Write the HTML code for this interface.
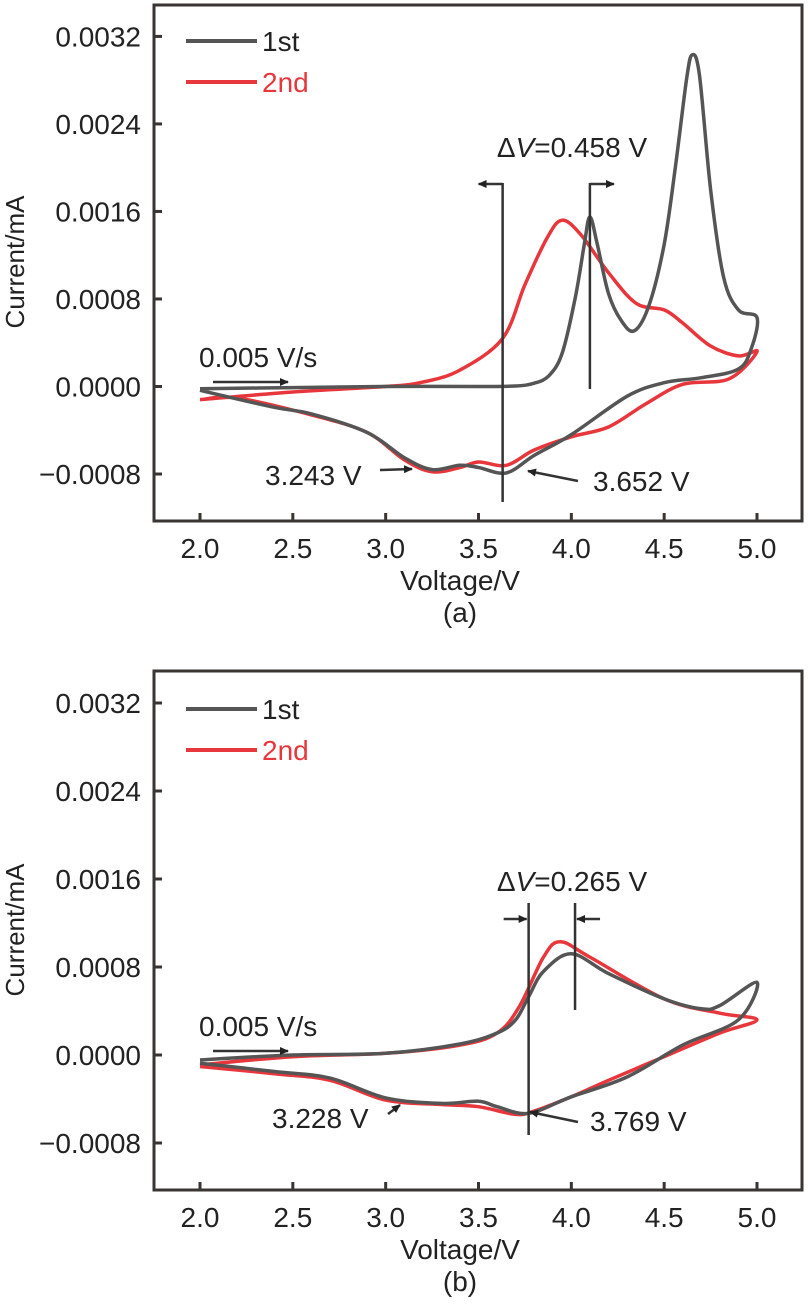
<!DOCTYPE html>
<html><head><meta charset="utf-8"><style>
body{margin:0;background:#fff;}
svg text{font-family:"Liberation Sans",Arial,sans-serif;}
</style></head><body>
<svg id="chart" width="808" height="1299" viewBox="0 0 808 1299" xmlns="http://www.w3.org/2000/svg">
<defs>
<marker id="ah" markerWidth="9" markerHeight="8" refX="8" refY="4" orient="auto" markerUnits="userSpaceOnUse"><path d="M0,0 L9,4 L0,8 z" fill="#222"/></marker>
</defs>
</svg>
<script>
// ---------- data (current in 1e-4 mA) ----------
const xTicks = [2.0, 2.5, 3.0, 3.5, 4.0, 4.5, 5.0];
const yTicks = [0.0032, 0.0024, 0.0016, 0.0008, 0.0000, -0.0008];
const yTickLabels = ["0.0032","0.0024","0.0016","0.0008","0.0000","\u22120.0008"];

const aFirstV = [2.0,2.5,3.0,3.5,3.7,3.8,3.88,3.95,4.02,4.07,4.1,4.14,4.2,4.27,4.34,4.42,4.5,4.56,4.62,4.65,4.69,4.75,4.82,4.9,5.0, 4.97,4.9,4.7,4.5,4.3,4.0,3.8,3.65,3.5,3.4,3.25,3.1,2.9,2.6,2.4,2.0];
const aFirstI = [-0.2,-0.1,0,0,0.05,0.3,1.0,3.0,8.0,13.0,15.5,13.0,8.5,6.0,5.1,7.5,13.0,20.0,28.0,30.3,28.5,18.0,10.0,7.0,6.3, 3.5,1.6,0.8,0.35,-0.9,-4.4,-6.3,-7.9,-7.4,-7.2,-7.6,-6.5,-4.2,-2.5,-1.9,-0.35];
const aSecondV = [2.0,2.5,3.0,3.2,3.4,3.63,3.75,3.87,3.95,4.05,4.2,4.35,4.5,4.6,4.75,4.9,5.0, 4.85,4.6,4.4,4.2,4.0,3.8,3.65,3.5,3.4,3.25,3.1,2.9,2.6,2.2,2.0];
const aSecondI = [-1.2,-0.5,0,0.4,1.5,4.4,9.3,13.6,15.2,13.9,10.4,7.6,7.0,5.8,3.7,2.8,3.2, 0.7,0.2,-1.6,-3.7,-4.6,-5.8,-7.2,-6.9,-7.4,-7.8,-6.7,-4.2,-2.6,-1.05,-1.2];
const bFirstV = [2.0,2.5,3.0,3.4,3.6,3.7,3.77,3.85,4.0,4.2,4.5,4.7,4.8,5.0, 4.9,4.6,4.3,4.0,3.77,3.6,3.5,3.3,3.0,2.7,2.4,2.0];
const bFirstI = [-0.45,0,0.15,1.0,2.0,3.2,5.3,7.6,9.2,7.4,5.1,4.2,4.5,6.6, 3.2,0.9,-2.0,-3.8,-5.3,-4.7,-4.2,-4.4,-3.9,-2.1,-1.5,-0.75];
const bSecondV = [2.0,2.5,3.0,3.4,3.6,3.72,3.85,3.94,4.1,4.5,4.8,5.0, 4.8,4.5,4.2,4.0,3.8,3.7,3.5,3.3,3.0,2.7,2.4,2.0];
const bSecondI = [-0.9,-0.15,0.15,0.9,2.0,4.4,8.9,10.3,8.9,5.1,3.8,3.2, 2.0,-0.15,-2.3,-3.8,-5.1,-5.4,-4.7,-4.5,-4.1,-2.3,-1.7,-1.05];

const svg = document.getElementById('chart');
const NS = 'http://www.w3.org/2000/svg';
const FS = 28;
function mk(tag, attrs, parent){const e=document.createElementNS(NS,tag);for(const k in attrs)e.setAttribute(k,attrs[k]);(parent||svg).appendChild(e);return e;}
function xS(v){return 200 + (v-2.0)/3.0*557;}

function smooth(pts){
  let d='M'+pts[0][0].toFixed(1)+','+pts[0][1].toFixed(1);
  for(let i=0;i<pts.length-1;i++){
    const p0=pts[Math.max(0,i-1)],p1=pts[i],p2=pts[i+1],p3=pts[Math.min(pts.length-1,i+2)];
    const c1=[p1[0]+(p2[0]-p0[0])/6,p1[1]+(p2[1]-p0[1])/6];
    const c2=[p2[0]-(p3[0]-p1[0])/6,p2[1]-(p3[1]-p1[1])/6];
    d+=' C'+c1[0].toFixed(1)+','+c1[1].toFixed(1)+' '+c2[0].toFixed(1)+','+c2[1].toFixed(1)+' '+p2[0].toFixed(1)+','+p2[1].toFixed(1);
  }
  return d;
}

function panel(cfg){
  const g=mk('g',{});
  
  
  const yS = i => cfg.y0 - i*cfg.ppu;
  const yV = v => yS(v*1e4);
  const frame=mk('rect',{x:154,y:cfg.top,width:648,height:cfg.bottom-cfg.top,fill:'none',stroke:'#3a3533',"stroke-width":3},g);
  
  
  yTicks.forEach((t,i)=>{
    const y=yV(t);
    const tk=mk('line',{x1:154,x2:162,y1:y,y2:y,stroke:'#3a3533',"stroke-width":3},g);
    
    
    const tx=mk('text',{x:141,y:y+10,"text-anchor":"end","font-size":FS,fill:'#222'},g);
    tx.textContent=yTickLabels[i];
    
    
  });
  xTicks.forEach(t=>{
    const x=xS(t);
    const tk=mk('line',{x1:x,x2:x,y1:cfg.bottom,y2:cfg.bottom-8,stroke:'#3a3533',"stroke-width":3},g);
    
    
    const tx=mk('text',{x:x,y:cfg.bottom+37,"text-anchor":"middle","font-size":FS,fill:'#222'},g);
    tx.textContent=t.toFixed(1);
    
    
  });
  const xt=mk('text',{x:460,y:cfg.bottom+69,"text-anchor":"middle","font-size":FS,fill:'#222'},g);
  xt.textContent='Voltage/V';
  
  
  const yt=mk('text',{x:0,y:0,"text-anchor":"middle","font-size":26,fill:'#222',transform:`translate(24,${cfg.ytY}) rotate(-90)`},g);
  yt.textContent='Current/mA';
  
  
  const cap=mk('text',{x:460,y:cfg.bottom+101,"text-anchor":"middle","font-size":FS,fill:'#222'},g);
  cap.textContent=cfg.caption;
  
  
  [[cfg.s2V,cfg.s2I,'#e8373c','second-cycle-line'],[cfg.s1V,cfg.s1I,'#555','first-cycle-line']].forEach(s=>{
    const pts=s[0].map((v,i)=>[xS(v),yS(s[1][i])]);
    const p=mk('path',{d:smooth(pts),fill:'none',stroke:s[2],"stroke-width":3.5,"stroke-linejoin":"round"},g);
    
    
  });
  [['1st','#555',cfg.leg1],['2nd','#e8373c',cfg.leg1+41]].forEach(l=>{
    const ln=mk('line',{x1:186,x2:257,y1:l[2],y2:l[2],stroke:l[1],"stroke-width":4},g);
    
    
    const tx=mk('text',{x:262,y:l[2]+10,"font-size":FS,fill:l[0]==='1st'?'#222':'#e8373c'},g);
    tx.textContent=l[0];
    
    
  });
  const A=cfg.ann;
  function line(x1,y1,x2,y2,arrow,name){
    const l=mk('line',{x1,y1,x2,y2,stroke:'#333',"stroke-width":2.5},g);
    if(arrow)l.setAttribute('marker-end','url(#ah)');
    
    
  }
  function text(x,y,s,name,anchor){
    const t=mk('text',{x,y,"font-size":FS,fill:'#222',"text-anchor":anchor||'start'},g);
    t.innerHTML=s;
    
    
  }
  const xl=xS(A.v1), xr=xS(A.v2);
  line(xl,A.lTop,xl,A.lBot,false,'delta-v-left-line');
  line(xr,A.lTop,xr,A.rBot,false,'delta-v-right-line');
  if(A.outward){
    line(xl,A.arrY,xl-24,A.arrY,true,'delta-v-left-arrow');
    line(xr,A.arrY,xr+24,A.arrY,true,'delta-v-right-arrow');
  } else {
    line(xl-25,A.arrY,xl-2,A.arrY,true,'delta-v-left-arrow');
    line(xr+25,A.arrY,xr+2,A.arrY,true,'delta-v-right-arrow');
  }
  text(572,A.dvY,'\u0394<tspan font-style="italic">V</tspan>=' + A.dv,'delta-v-label','middle');
  text(199,A.rateY,'0.005 V/s','scan-rate-label');
  line(213,A.rateY+15,288,A.rateY+15,true,'scan-direction-arrow');
  text(A.l1x,A.l1y,A.l1,'cathodic-peak-1-label');
  line(A.l1a[0],A.l1a[1],A.l1a[2],A.l1a[3],true,'cathodic-peak-1-arrow');
  text(A.l2x,A.l2y,A.l2,'cathodic-peak-2-label');
  line(A.l2a[0],A.l2a[1],A.l2a[2],A.l2a[3],true,'cathodic-peak-2-arrow');
}

panel({name:'panel-a',caption:'(a)',top:5,bottom:521,y0:386.5,ppu:10.94,ytY:262,
  s1V:aFirstV,s1I:aFirstI,s2V:aSecondV,s2I:aSecondI,leg1:41,
  ann:{outward:true,v1:3.63,v2:4.1,lTop:183,lBot:502,rBot:389,arrY:184,dv:'0.458 V',dvY:157,rateY:367,
       l1:'3.243 V',l1x:265,l1y:485,l1a:[380,470,412,469],l2:'3.652 V',l2x:593,l2y:491,l2a:[578,481,528,471]}});
panel({name:'panel-b',caption:'(b)',top:671,bottom:1190,y0:1055,ppu:11.0,ytY:930,
  s1V:bFirstV,s1I:bFirstI,s2V:bSecondV,s2I:bSecondI,leg1:709,
  ann:{outward:false,v1:3.77,v2:4.02,lTop:903,lBot:1135,rBot:1010,arrY:919,dv:'0.265 V',dvY:891,rateY:1036,
       l1:'3.228 V',l1x:272,l1y:1128,l1a:[388,1114,400,1105],l2:'3.769 V',l2x:590,l2y:1131,l2a:[578,1122,530,1112]}});
</script>
</body></html>
